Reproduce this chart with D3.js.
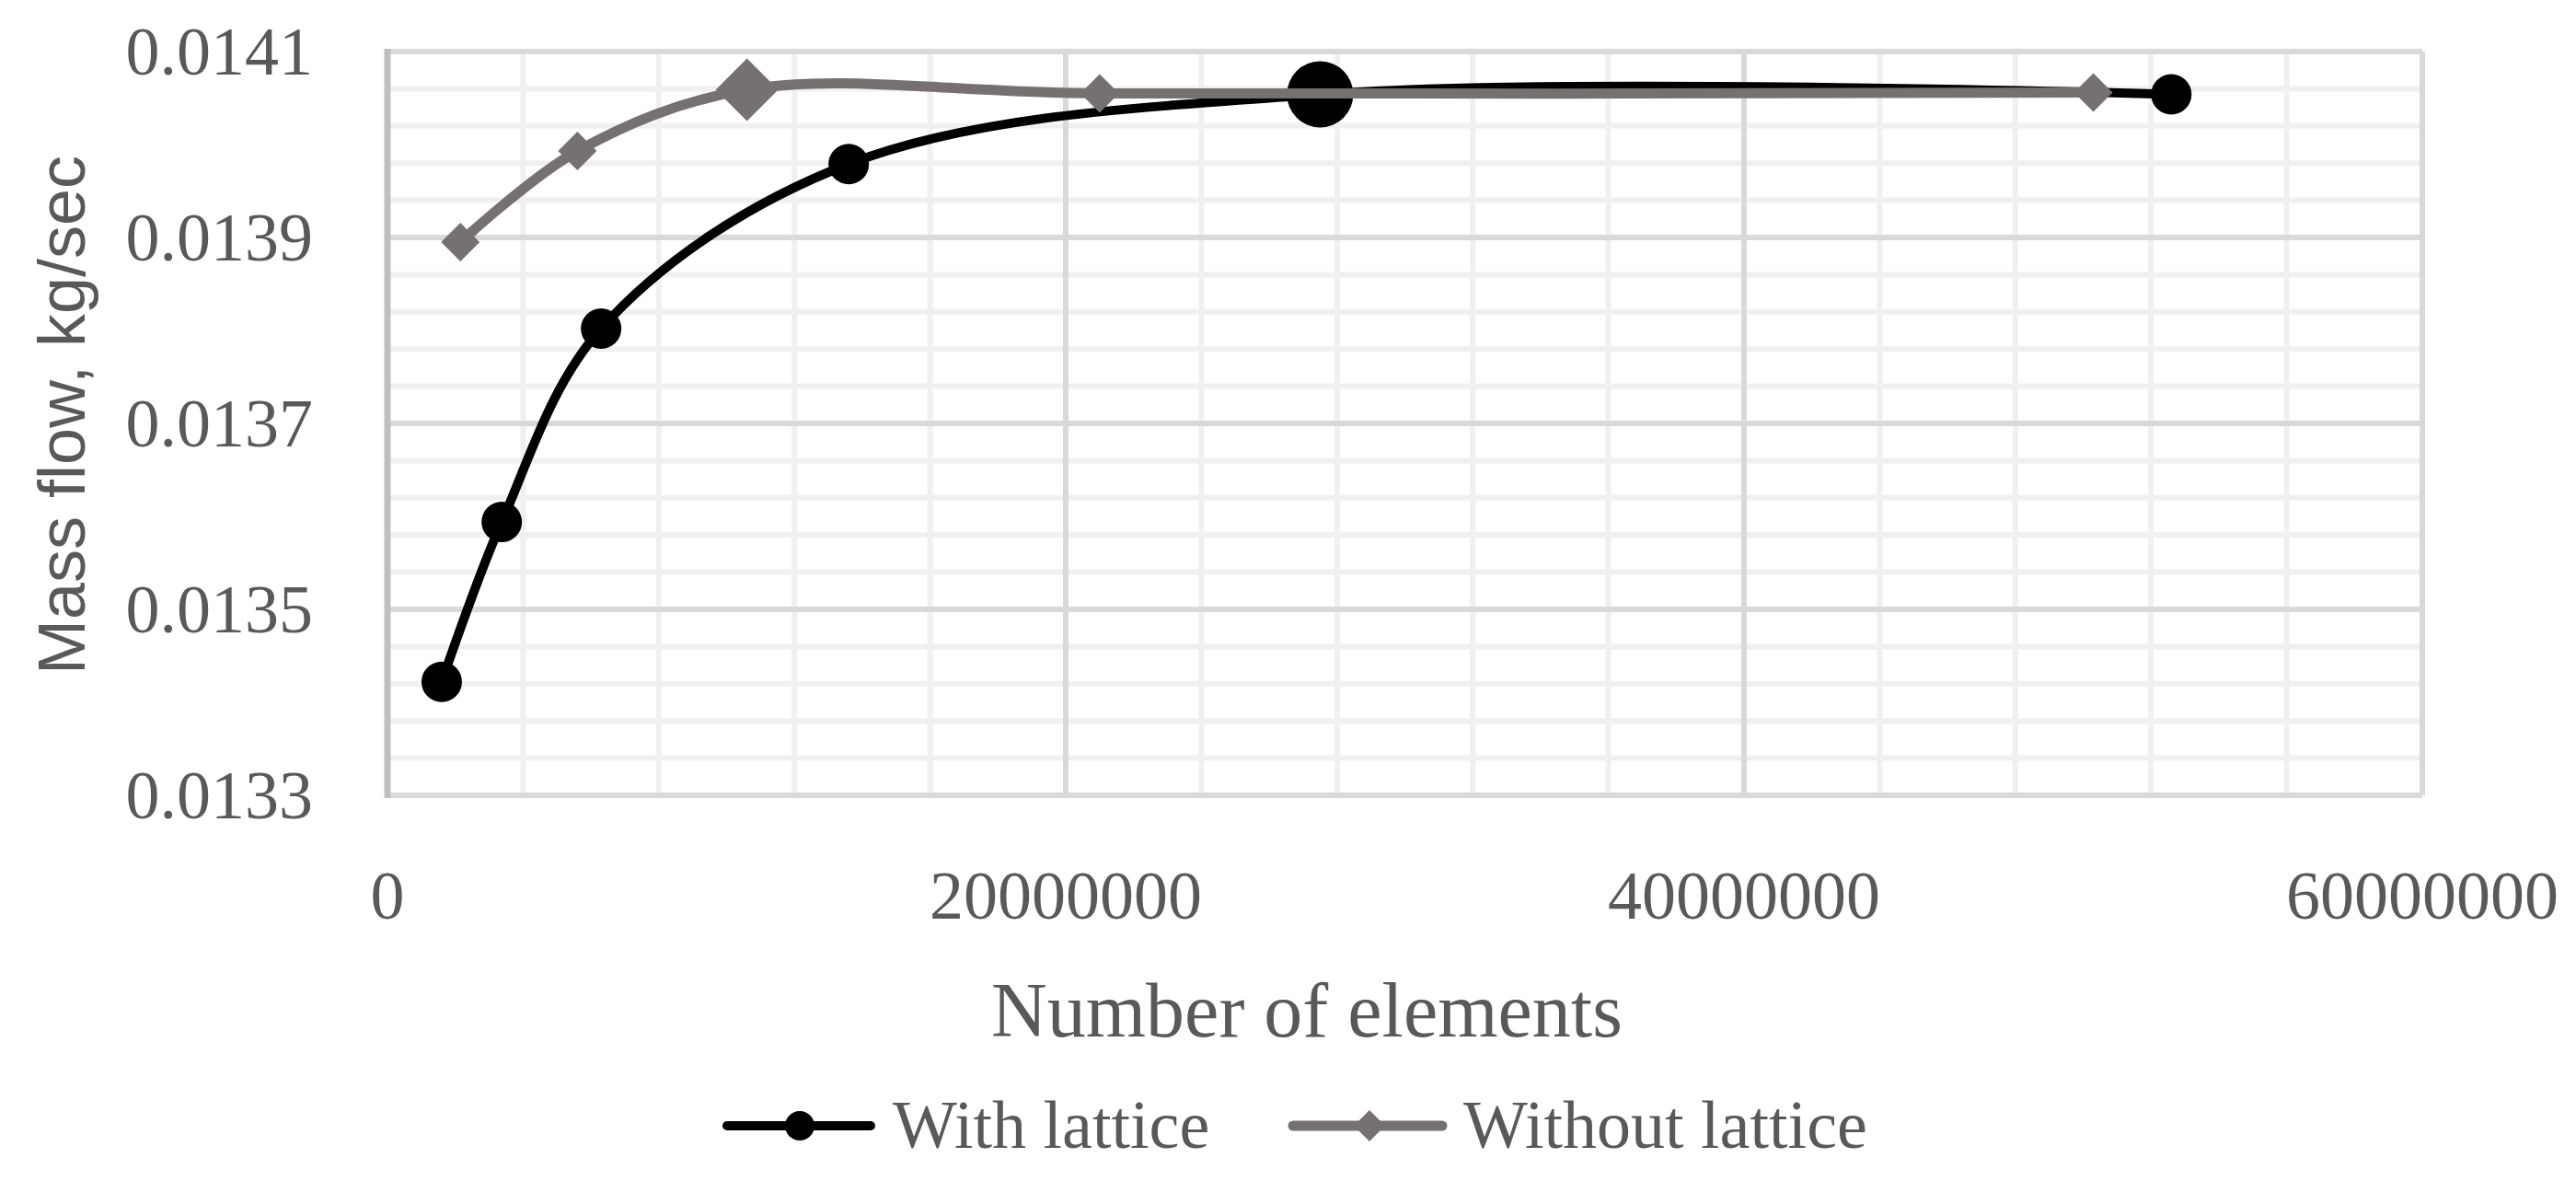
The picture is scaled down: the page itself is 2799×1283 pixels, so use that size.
<!DOCTYPE html>
<html>
<head>
<meta charset="utf-8">
<script src="https://cdn.jsdelivr.net/npm/d3@7"></script>
<style>body{margin:0;background:#fff}</style>
</head>
<body>
<div id="chart"></div>
<script>
// data
let latticeX = [1600000, 3370000, 6300000, 13600000, 27500000, 52600000]
let latticeY = [0.013422, 0.013594, 0.013802, 0.013979, 0.014054, 0.014054]
let plainX = [2150000, 5600000, 10600000, 21000000, 50300000]
let plainY = [0.013895, 0.013993, 0.014059, 0.014055, 0.014056]
let xTicks = [0, 20000000, 40000000, 60000000]
let yTicks = ['0.0133', '0.0135', '0.0137', '0.0139', '0.0141']

let width = 2799
let height = 1283
let pLeft = 421, pRight = 2632, pTop = 56, pBottom = 864

let svg = d3.select('div#chart').append('svg')
  .attr('width', width).attr('height', height)

let x = d3.scaleLinear().domain([0, 60000000]).range([pLeft, pRight])
let y = d3.scaleLinear().domain([0.0133, 0.0141]).range([pBottom, pTop])

let grid = svg.append('g')
// minor grid
grid.selectAll('.mx').data(d3.range(0, 60000001, 4000000)).enter().append('line')
  .attr('x1', d => x(d)).attr('x2', d => x(d)).attr('y1', pTop).attr('y2', pBottom)
  .attr('stroke', '#f0f0f0').attr('stroke-width', 6)
grid.selectAll('.my').data(d3.range(0, 21).map(i => 0.0133 + i * 0.00004)).enter().append('line')
  .attr('x1', pLeft).attr('x2', pRight).attr('y1', d => y(d)).attr('y2', d => y(d))
  .attr('stroke', '#f0f0f0').attr('stroke-width', 6)
// major grid
grid.selectAll('.Mx').data(xTicks).enter().append('line')
  .attr('x1', d => x(d)).attr('x2', d => x(d)).attr('y1', pTop).attr('y2', pBottom)
  .attr('stroke', '#d9d9d9').attr('stroke-width', 6)
grid.selectAll('.My').data(yTicks).enter().append('line')
  .attr('x1', pLeft).attr('x2', pRight).attr('y1', d => y(+d)).attr('y2', d => y(+d))
  .attr('stroke', '#d9d9d9').attr('stroke-width', 6)
svg.append('line').attr('x1', pLeft).attr('x2', pLeft).attr('y1', pTop - 3).attr('y2', pBottom + 3)
  .attr('stroke', '#bfbfbf').attr('stroke-width', 7)

// tick labels
svg.selectAll('.yt').data(yTicks).enter().append('text')
  .attr('x', 340).attr('y', d => y(+d) + 25)
  .attr('text-anchor', 'end')
  .style('font-family', 'Liberation Serif').style('font-size', '74px').style('fill', '#595959')
  .text(d => d)
svg.selectAll('.xt').data(xTicks).enter().append('text')
  .attr('x', d => x(d)).attr('y', 998)
  .attr('text-anchor', 'middle')
  .style('font-family', 'Liberation Serif').style('font-size', '74px').style('fill', '#595959')
  .text(d => d)

// axis titles
svg.append('text')
  .attr('x', 1420).attr('y', 1126)
  .attr('text-anchor', 'middle')
  .style('font-family', 'Liberation Serif').style('font-size', '84px').style('fill', '#595959')
  .text('Number of elements')
svg.append('text')
  .attr('transform', 'translate(92,451) rotate(-90)')
  .attr('text-anchor', 'middle')
  .style('font-family', 'Liberation Sans').style('font-size', '72px').style('fill', '#595959')
  .text('Mass flow, kg/sec')

let line = d3.line().curve(d3.curveCatmullRom.alpha(0.5))
let blackPts = latticeX.map((v, i) => [x(v), y(latticeY[i])])
let grayPts = plainX.map((v, i) => [x(v), y(plainY[i])])

svg.append('path').attr('d', line(blackPts))
  .attr('fill', 'none').attr('stroke', '#000').attr('stroke-width', 10)
svg.selectAll('.bc').data(blackPts).enter().append('circle')
  .attr('cx', d => d[0]).attr('cy', d => d[1])
  .attr('r', (d, i) => i == 4 ? 36 : 22).attr('fill', '#000')

svg.append('path').attr('d', line(grayPts))
  .attr('fill', 'none').attr('stroke', '#767171').attr('stroke-width', 11)
let diamond = (cx, cy, h) => `M${cx},${cy - h}L${cx + h},${cy}L${cx},${cy + h}L${cx - h},${cy}Z`
svg.selectAll('.gd').data(grayPts).enter().append('path')
  .attr('d', (d, i) => diamond(d[0], d[1], i == 2 ? 34 : 21)).attr('fill', '#767171')

// legend
let lg = svg.append('g')
lg.append('line').attr('x1', 790).attr('x2', 946).attr('y1', 1223).attr('y2', 1223)
  .attr('stroke', '#000').attr('stroke-width', 10).attr('stroke-linecap', 'round')
lg.append('circle').attr('cx', 869).attr('cy', 1223).attr('r', 16).attr('fill', '#000')
lg.append('text').attr('x', 970).attr('y', 1247)
  .style('font-family', 'Liberation Serif').style('font-size', '74px').style('fill', '#595959')
  .text('With lattice')
lg.append('line').attr('x1', 1405).attr('x2', 1567).attr('y1', 1223).attr('y2', 1223)
  .attr('stroke', '#767171').attr('stroke-width', 11).attr('stroke-linecap', 'round')
lg.append('path').attr('d', diamond(1488, 1223, 17)).attr('fill', '#767171')
lg.append('text').attr('x', 1590).attr('y', 1247)
  .style('font-family', 'Liberation Serif').style('font-size', '74px').style('fill', '#595959')
  .text('Without lattice')
</script>
</body>
</html>
